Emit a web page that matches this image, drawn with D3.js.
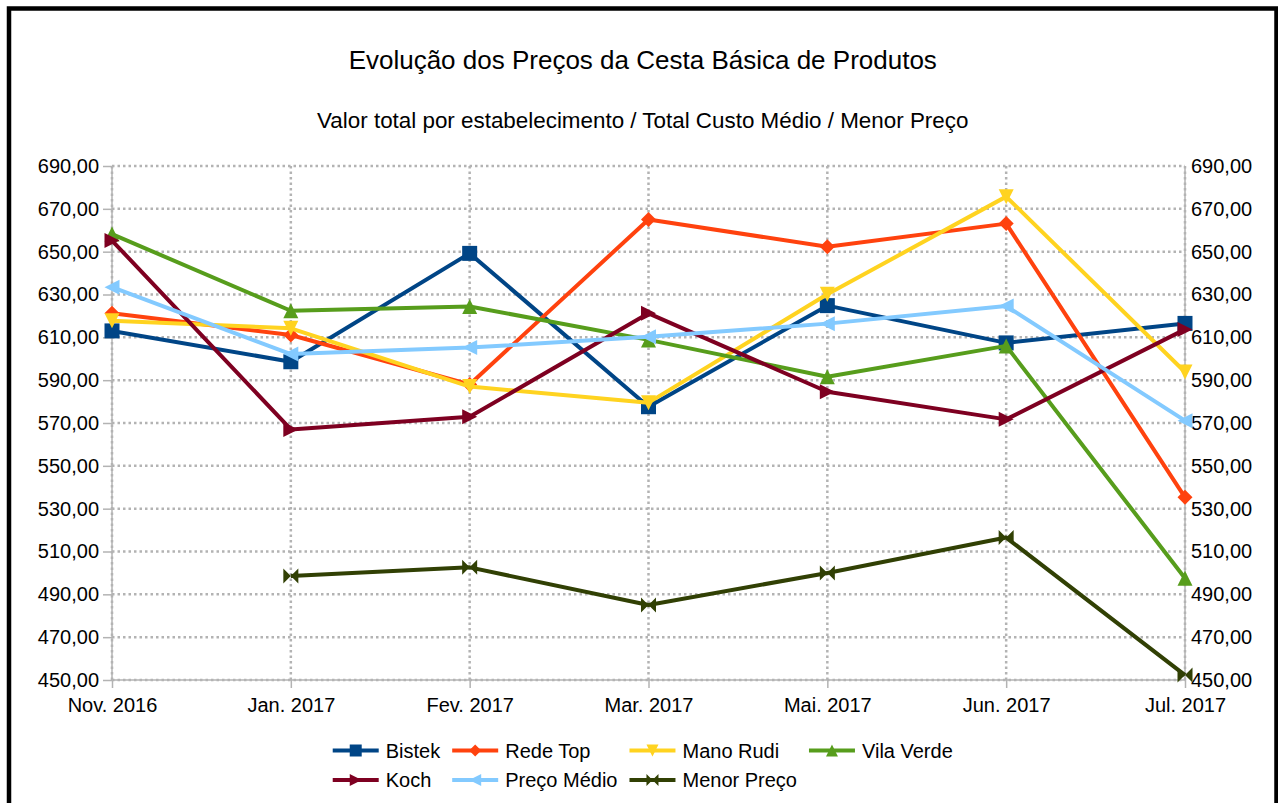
<!DOCTYPE html>
<html>
<head>
<meta charset="utf-8">
<script src="https://cdn.jsdelivr.net/npm/d3@7"></script>
<style>
  html, body { margin: 0; padding: 0; background: #ffffff; }
  svg { display: block; font-family: "Liberation Sans", Arial, sans-serif; }
</style>
</head>
<body>
<svg id="chart" width="1278" height="803"></svg>
<script>
// ---- Data ----
const categories = ["Nov. 2016", "Jan. 2017", "Fev. 2017", "Mar. 2017", "Mai. 2017", "Jun. 2017", "Jul. 2017"];
const bistek     = [613.0, 598.6, 649.2, 577.6, 624.8, 607.4, 616.5];
const redeTop    = [621.2, 611.1, 588.0, 665.0, 652.3, 663.1, 535.3];
const manoRudi   = [617.8, 614.2, 587.0, 579.5, 630.1, 675.7, 593.8];
const vilaVerde  = [658.2, 622.4, 624.4, 608.8, 591.6, 606.0, 497.5];
const koch       = [655.2, 567.0, 572.9, 621.2, 584.6, 571.7, 613.7];
const precoMedio = [633.4, 602.2, 605.2, 610.3, 616.4, 624.6, 571.1];
const menorPreco = [null, 498.6, 502.6, 485.0, 500.0, 516.5, 452.3];
const seriesNames = ["Bistek", "Rede Top", "Mano Rudi", "Vila Verde", "Koch", "Preço Médio", "Menor Preço"];
const yTicks = [450, 470, 490, 510, 530, 550, 570, 590, 610, 630, 650, 670, 690];
const titleText = "Evolução dos Preços da Cesta Básica de Produtos";
const subtitleText = "Valor total por estabelecimento / Total Custo Médio / Menor Preço";

// ---- Styles ----
const colors  = ["#004586", "#ff420e", "#ffd320", "#579d1c", "#7e0021", "#83caff", "#314004"];
const symbols = ["square", "diamond", "down", "up", "right", "left", "bowtie"];
const seriesValues = [bistek, redeTop, manoRudi, vilaVerde, koch, precoMedio, menorPreco];

const svg = d3.select("#chart");
const plot = { left: 112, right: 1185, top: 166, bottom: 680 };

// frame
svg.append("rect").attr("x", 9).attr("y", 8.5).attr("width", 1267.5).attr("height", 820)
  .attr("fill", "#fff").attr("stroke", "#000").attr("stroke-width", 4.5);

// titles
const cx = (9 + 1276.5) / 2;
svg.append("text").attr("x", cx).attr("y", 69).attr("text-anchor", "middle")
  .attr("font-size", 26).attr("fill", "#000").text(titleText);
svg.append("text").attr("x", cx).attr("y", 128).attr("text-anchor", "middle")
  .attr("font-size", 22.4).attr("fill", "#000").text(subtitleText);

// scales
const x = d3.scalePoint().domain(categories).range([plot.left, plot.right]).padding(0);
const y = d3.scaleLinear().domain([450, 690]).range([plot.bottom, plot.top]);

const gridColor = "#b3b3b3";
const g = svg.append("g");

// axis lines (solid)
g.append("line").attr("x1", plot.left).attr("x2", plot.left).attr("y1", plot.top).attr("y2", plot.bottom)
  .attr("stroke", gridColor).attr("stroke-width", 1.5);
g.append("line").attr("x1", plot.right).attr("x2", plot.right).attr("y1", plot.top).attr("y2", plot.bottom)
  .attr("stroke", gridColor).attr("stroke-width", 1.5);
g.append("line").attr("x1", plot.left).attr("x2", plot.right).attr("y1", plot.bottom).attr("y2", plot.bottom)
  .attr("stroke", gridColor).attr("stroke-width", 1.5);

// grid (dotted)
g.append("g").selectAll("line").data(yTicks).join("line")
  .attr("x1", plot.left).attr("x2", plot.right)
  .attr("y1", d => y(d)).attr("y2", d => y(d))
  .attr("stroke", gridColor).attr("stroke-width", 2.5).attr("stroke-dasharray", "2.5,3");
g.append("g").selectAll("line").data(categories).join("line")
  .attr("x1", d => x(d)).attr("x2", d => x(d))
  .attr("y1", plot.top).attr("y2", plot.bottom)
  .attr("stroke", gridColor).attr("stroke-width", 2.5).attr("stroke-dasharray", "2.5,3");

// axes via d3
const fmt = d => d3.format(".2f")(d).replace(".", ",");
const leftAxis = d3.axisLeft(y).tickValues(yTicks).tickFormat(fmt).tickSize(9).tickPadding(4);
const rightAxis = d3.axisRight(y).tickValues(yTicks).tickFormat(fmt).tickSize(0).tickPadding(6);
const bottomAxis = d3.axisBottom(x).tickSize(8).tickPadding(10);

function styleAxis(sel) {
  sel.select(".domain").remove();
  sel.selectAll(".tick line").attr("stroke", gridColor).attr("stroke-width", 1.5);
  sel.selectAll(".tick text").attr("fill", "#000").attr("font-size", 20)
    .attr("font-family", "Liberation Sans, Arial, sans-serif");
}
svg.append("g").attr("transform", `translate(${plot.left},0)`).call(leftAxis).call(styleAxis);
svg.append("g").attr("transform", `translate(${plot.right},0)`).call(rightAxis).call(styleAxis);
const bx = svg.append("g").attr("transform", `translate(0,${plot.bottom})`).call(bottomAxis).call(styleAxis);
bx.selectAll(".tick text").attr("dy", "0.71em");

// symbol path generator
function symbolPath(type, s) {
  const h = s / 2;
  switch (type) {
    case "square":  return `M${-h},${-h}H${h}V${h}H${-h}Z`;
    case "diamond": return `M0,${-h}L${h},0L0,${h}L${-h},0Z`;
    case "down":    return `M${-h},${-h}L${h},${-h}L0,${h}Z`;
    case "up":      return `M${-h},${h}L${h},${h}L0,${-h}Z`;
    case "right":   return `M${-h},${-h}L${h},0L${-h},${h}Z`;
    case "left":    return `M${h},${-h}L${-h},0L${h},${h}Z`;
    case "bowtie":  return `M${-h},${-h}L${h},${h}L${h},${-h}L${-h},${h}Z`;
  }
}

// series
const line = d3.line().defined(d => d.v != null).x(d => x(d.c)).y(d => y(d.v));
const seriesG = svg.append("g");
seriesValues.forEach((vals, i) => {
  const pts = vals.map((v, j) => ({ c: categories[j], v }));
  seriesG.append("path").datum(pts).attr("d", line)
    .attr("fill", "none").attr("stroke", colors[i]).attr("stroke-width", 4)
    .attr("stroke-linejoin", "round");
  seriesG.append("g").selectAll("path").data(pts.filter(d => d.v != null)).join("path")
    .attr("transform", d => `translate(${x(d.c)},${y(d.v)})`)
    .attr("d", symbolPath(symbols[i], 15))
    .attr("fill", colors[i]);
});

// legend
const legendRows = [[0, 1, 2, 3], [4, 5, 6]];
const symW = 46, symGap = 7, colGap = 12, fontSize = 20;
const legend = svg.append("g");
const meas = legend.append("text").attr("font-size", fontSize);
const widths = seriesNames.map(n => { meas.text(n); return meas.node().getComputedTextLength(); });
meas.remove();
const nCols = 4;
const colW = [];
for (let c = 0; c < nCols; c++) {
  let m = 0;
  legendRows.forEach(r => { if (r[c] != null) m = Math.max(m, widths[r[c]]); });
  colW.push(symW + symGap + m);
}
const totalW = d3.sum(colW) + colGap * (nCols - 1);
const colX = [];
let acc = cx - totalW / 2;
colW.forEach(w => { colX.push(acc); acc += w + colGap; });
const rowY = [750.5, 780];
legendRows.forEach((r, ri) => {
  r.forEach((si, ci) => {
    const gx = colX[ci], gy = rowY[ri];
    const it = legend.append("g").attr("transform", `translate(${gx},${gy})`);
    it.append("line").attr("x1", 0).attr("x2", symW).attr("y1", 0).attr("y2", 0)
      .attr("stroke", colors[si]).attr("stroke-width", 4);
    it.append("path").attr("transform", `translate(${symW / 2},0)`)
      .attr("d", symbolPath(symbols[si], 12)).attr("fill", colors[si]);
    it.append("text").attr("x", symW + symGap).attr("y", 0).attr("dy", "0.35em")
      .attr("font-size", fontSize).attr("fill", "#000").text(seriesNames[si]);
  });
});
</script>
</body>
</html>
